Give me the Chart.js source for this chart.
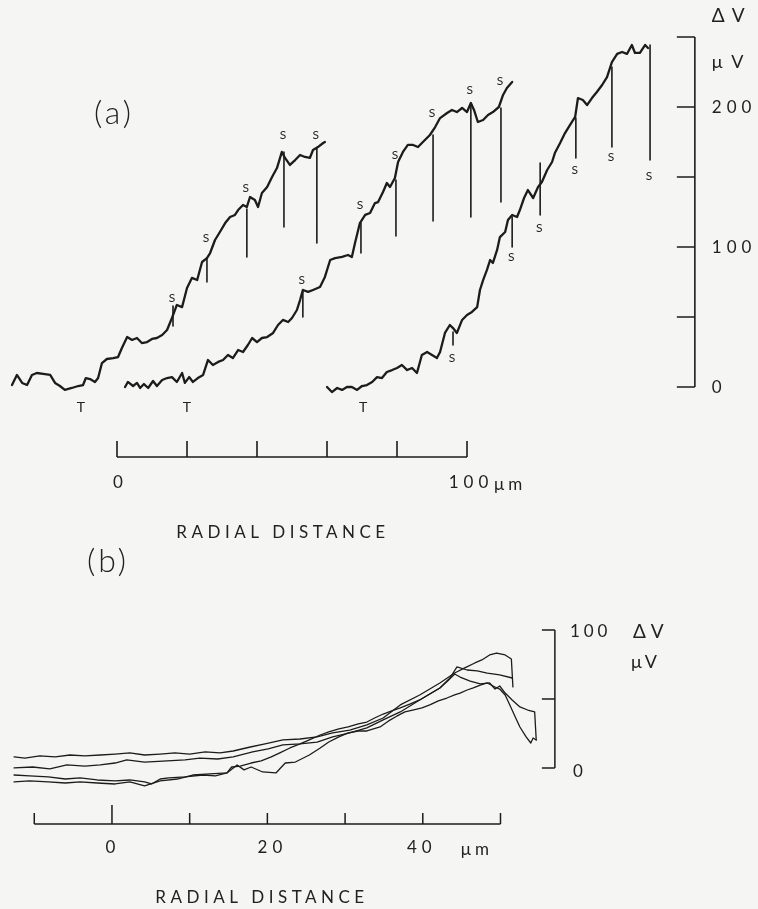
<!DOCTYPE html>
<html>
<head>
<meta charset="utf-8">
<script src="https://cdn.jsdelivr.net/npm/chart.js@4.4.1/dist/chart.umd.min.js"></script>
<style>
  html, body { margin: 0; padding: 0; background: #f5f5f3; }
  #wrap { position: relative; width: 758px; height: 909px; }
  #chartA { position: absolute; left: 0; top: 0; }
  #chartB { position: absolute; left: 0; top: 520px; }
</style>
</head>
<body>
<div id="wrap">
  <canvas id="chartA" width="758" height="560"></canvas>
  <canvas id="chartB" width="758" height="389"></canvas>
</div>
<script>
// ---- panel (a): three radial scans, x in µm, y in µV ----
const a1X = [-30.0, -28.6, -27.1, -25.7, -24.3, -22.9, -21.1, -19.1, -17.7, -16.3, -14.9, -12.9, -11.1, -9.7, -8.9, -7.7, -6.3, -5.4, -4.3, -2.9, -1.1, 0.3, 1.4, 2.9, 4.3, 5.7, 7.1, 8.6, 10.0, 11.4, 12.9, 14.3, 15.7, 17.1, 18.6, 20.0, 21.4, 22.9, 24.3, 25.7, 26.6, 28.0, 29.4, 30.9, 32.3, 33.7, 34.6, 36.0, 37.1, 38.0, 39.4, 40.3, 41.4, 42.9, 44.3, 45.7, 47.1, 48.0, 49.4, 50.9, 52.3, 53.7, 55.1, 56.0, 57.4, 58.9, 59.4];
const a1Y = [1.4, 8.6, 2.9, 1.4, 8.6, 10.0, 9.3, 8.6, 2.9, 0.7, -2.1, -0.7, 0.7, 1.4, 6.4, 5.7, 3.6, 6.4, 17.1, 20.0, 20.7, 21.4, 27.9, 35.7, 33.6, 35.0, 31.4, 32.1, 34.3, 35.0, 37.1, 40.7, 49.3, 58.6, 57.1, 70.7, 77.9, 76.4, 89.3, 92.1, 95.7, 105.0, 110.7, 117.1, 121.4, 122.9, 126.4, 130.0, 128.6, 135.7, 133.6, 128.6, 138.6, 142.9, 150.0, 156.4, 167.9, 163.6, 158.6, 162.1, 165.7, 164.3, 163.6, 169.3, 171.4, 174.3, 175.0];

const a2X = [2.3, 3.1, 4.6, 5.7, 6.6, 7.7, 8.9, 10.3, 11.4, 12.9, 14.3, 15.7, 17.1, 18.6, 19.4, 20.6, 21.7, 23.1, 24.6, 26.0, 27.4, 28.9, 30.3, 31.7, 33.1, 34.6, 36.0, 37.4, 38.6, 40.0, 41.4, 42.9, 44.6, 46.0, 47.4, 48.9, 50.0, 51.4, 52.3, 53.1, 54.6, 56.0, 58.0, 59.4, 60.9, 62.3, 64.3, 66.0, 67.1, 68.0, 69.4, 70.9, 72.3, 73.7, 74.6, 76.0, 77.1, 78.0, 79.4, 80.3, 81.7, 83.1, 84.6, 86.0, 87.4, 89.4, 90.9, 92.3, 94.3, 95.7, 97.1, 98.6, 100.0, 101.1, 102.0, 103.1, 104.6, 106.0, 107.4, 109.1, 110.3, 111.4, 112.9];
const a2Y = [0, 3.6, 0.7, 2.9, -0.7, 2.1, -0.7, 4.3, 0.7, 5.0, 6.4, 7.1, 3.6, 10.0, 2.9, 7.1, 3.6, 6.4, 8.6, 19.3, 15.7, 17.9, 19.3, 22.9, 20.7, 26.4, 25.0, 30.0, 35.0, 32.1, 35.0, 35.7, 38.6, 44.3, 47.9, 46.4, 49.3, 55.0, 62.1, 69.3, 67.9, 69.3, 71.4, 78.6, 90.7, 92.1, 92.9, 94.3, 92.9, 102.9, 117.1, 122.9, 124.3, 131.4, 132.1, 139.3, 145.7, 142.9, 149.3, 160.7, 167.9, 172.9, 172.9, 171.4, 175.0, 180.0, 185.7, 192.1, 195.7, 197.9, 196.4, 199.3, 196.4, 202.9, 197.9, 189.3, 190.7, 194.3, 196.4, 200.0, 208.6, 213.6, 217.9];

const a3X = [60.0, 61.4, 62.9, 64.3, 65.7, 67.1, 68.6, 70.0, 71.4, 72.9, 74.3, 75.7, 77.1, 78.6, 80.0, 81.4, 82.9, 84.3, 85.7, 87.1, 88.6, 90.0, 91.4, 92.3, 93.7, 95.1, 96.0, 97.1, 98.6, 100.0, 101.4, 102.9, 103.7, 104.6, 105.7, 106.6, 107.4, 108.6, 109.4, 110.9, 111.7, 112.9, 114.3, 115.1, 116.3, 117.4, 118.9, 120.3, 121.4, 122.9, 124.3, 125.1, 126.6, 128.0, 129.4, 130.9, 131.7, 133.1, 134.3, 135.7, 137.1, 138.6, 140.0, 141.4, 142.9, 144.3, 145.7, 147.1, 148.0, 149.4, 150.9, 151.7];
const a3Y = [0, -3.6, -0.7, -2.1, 0, 0, -2.1, 0.7, 1.4, 3.6, 7.1, 6.4, 10.7, 12.1, 13.6, 15.7, 12.1, 13.6, 10.0, 22.9, 25.0, 22.9, 20.7, 25.0, 38.6, 44.3, 42.1, 38.6, 47.9, 51.4, 53.6, 57.1, 69.3, 76.4, 83.6, 90.7, 88.6, 97.9, 107.1, 110.7, 119.3, 122.9, 121.4, 126.4, 135.0, 140.7, 135.0, 142.9, 146.4, 155.0, 160.7, 167.1, 174.3, 181.4, 187.1, 192.9, 206.4, 205.0, 201.4, 206.4, 210.7, 215.7, 221.4, 232.1, 237.9, 239.3, 237.9, 244.3, 238.6, 238.6, 244.3, 242.1];

// "s" stimulus marks: position, top and bottom of the line, label height
const sX = [16.0, 25.7, 37.1, 47.7, 57.1, 53.1, 69.7, 79.7, 90.3, 101.1, 109.7, 96.0, 112.9, 120.9, 131.1, 141.4, 152.3];
const sTop = [57.9, 92.1, 127.1, 167.9, 170.7, 69.3, 117.1, 147.9, 180.0, 202.9, 199.3, 39.3, 121.4, 160.0, 192.1, 228.6, 244.3];
const sBottom = [43.6, 75.0, 92.9, 114.3, 102.9, 50.0, 95.7, 107.9, 118.6, 121.4, 132.1, 30.0, 100.0, 122.9, 163.6, 171.4, 162.1];
const sLabelY = [63.6, 106.4, 142.1, 180.0, 180.0, 76.4, 130.0, 165.7, 195.7, 212.1, 218.6, 20.7, 92.9, 113.6, 155.0, 164.3, 150.7];

// "T" marks under each scan
const tX = [-10.3, 20.0, 70.3];
const tY = -14.3;

const aVoltTicks = [0, 50, 100, 150, 200, 250];
const aVoltLabels = [0, 100, 200];
const aDistTicks = [0, 20, 40, 60, 80, 100];
const aBracketAt = 165.1; // µm
const aBarAt = -50;       // µV

// ---- panel (b): four averaged scans ----
const b1X = [-12.6, -11.2, -9.3, -7.3, -5.4, -3.5, -1.5, 0.4, 2.3, 4.2, 6.2, 8.1, 10.0, 12.0, 13.9, 15.6, 17.8, 19.7, 22.0, 24.2, 26.4, 28.4, 30.6, 32.8, 34.9, 37.1, 39.6, 42.2, 44.1, 45.4, 46.7, 47.6, 48.6, 49.5, 50.6, 51.4, 51.6];
const b1Y = [8.0, 7.2, 8.7, 8.0, 9.4, 8.7, 9.4, 10.1, 10.9, 9.4, 10.1, 10.9, 10.1, 11.6, 10.9, 12.3, 15.2, 17.4, 20.3, 21.0, 22.5, 25.4, 27.5, 31.2, 36.2, 45.7, 52.9, 61.6, 68.8, 72.5, 76.1, 78.3, 81.9, 83.3, 81.9, 79.0, 58.7];

const b2X = [-12.6, -10.2, -8.0, -5.8, -3.5, -1.5, 0.4, 1.9, 4.2, 7.1, 9.4, 11.3, 13.6, 15.6, 18.1, 20.1, 22.0, 24.2, 26.4, 28.4, 30.6, 32.8, 34.9, 37.1, 39.6, 42.2, 43.5, 44.4, 45.7, 47.0, 48.3, 49.9, 51.5];
const b2Y = [0, 0.7, -0.7, 2.2, 1.4, 2.2, 3.6, 5.8, 4.3, 5.1, 5.8, 7.2, 6.5, 8.0, 11.6, 13.8, 16.7, 17.4, 18.8, 22.5, 25.4, 29.0, 34.8, 40.6, 49.3, 58.0, 65.2, 73.2, 71.0, 70.3, 68.8, 67.4, 65.2];

const b3X = [-12.6, -10.6, -8.2, -6.0, -4.1, -1.9, 0.4, 2.3, 4.2, 5.1, 6.2, 7.3, 9.4, 11.7, 13.3, 14.8, 15.4, 16.5, 17.9, 19.2, 20.5, 21.6, 22.9, 24.2, 25.4, 26.8, 27.9, 29.2, 30.4, 31.7, 32.8, 33.8, 34.9, 36.0, 37.1, 38.4, 39.6, 40.9, 42.2, 43.2, 44.1, 44.8, 46.1, 47.4, 48.6, 49.3, 49.9, 50.6, 51.5, 52.5, 53.5, 54.4, 54.6];
const b3Y = [-5.1, -5.8, -6.5, -8.0, -7.2, -8.7, -9.4, -8.7, -10.1, -11.6, -8.0, -7.2, -6.5, -5.1, -5.8, -3.6, 0.7, 1.4, 3.6, 5.1, 8.0, 10.9, 14.5, 17.4, 20.3, 23.9, 26.1, 28.3, 29.7, 31.9, 33.3, 36.2, 39.1, 41.3, 43.5, 46.4, 49.3, 53.6, 58.0, 63.0, 68.1, 65.9, 63.0, 60.9, 61.6, 57.2, 59.4, 54.3, 49.3, 44.2, 42.0, 40.6, 20.3];

const b4X = [-12.6, -10.6, -8.2, -6.0, -4.1, -1.9, 0.4, 2.3, 4.2, 6.2, 8.4, 10.4, 12.6, 14.8, 16.1, 17.0, 17.9, 19.4, 21.1, 22.3, 23.6, 25.4, 26.8, 27.9, 29.2, 30.4, 31.7, 32.8, 34.5, 35.6, 36.7, 37.7, 38.7, 39.9, 40.9, 42.0, 43.1, 44.1, 44.8, 45.7, 46.5, 47.4, 48.3, 49.3, 49.9, 50.6, 51.2, 51.9, 52.5, 53.3, 53.9, 54.2, 54.6];
const b4Y = [-10.1, -9.4, -10.1, -10.9, -10.1, -10.9, -11.6, -10.1, -13.0, -9.4, -8.0, -5.1, -4.3, -3.6, 2.2, -1.4, 0.7, -2.9, -3.6, 3.6, 4.3, 9.4, 14.5, 18.8, 22.5, 25.4, 26.8, 26.8, 29.7, 34.1, 37.7, 40.6, 42.0, 43.5, 45.7, 48.6, 50.7, 52.9, 54.3, 56.5, 58.0, 60.1, 61.6, 58.7, 57.2, 52.9, 45.7, 37.0, 29.7, 22.5, 18.1, 21.7, 20.3];

const bVoltTicks = [0, 50, 100];
const bDistTicks = [-10, 0, 10, 20, 30, 40, 50];
const bDistLabels = [0, 20, 40];
const bBracketAt = 57.0;  // µm
const bBarAt = -40.6;     // µV

const INK = "#1c1c1c";
const TEXT = "#222222";
const FONT = 'Lato, "Open Sans", "DejaVu Sans", sans-serif';

function pts(xs, ys) {
  return xs.map((x, i) => ({ x: x, y: ys[i] }));
}

function markerSegments(xs, tops, bottoms) {
  const out = [];
  xs.forEach((x, i) => {
    out.push({ x: x, y: tops[i] }, { x: x, y: bottoms[i] }, { x: x, y: null });
  });
  return out;
}

function text(ctx, str, x, y, size, align, spacing, weight) {
  ctx.font = (weight || 400) + " " + size + "px " + FONT;
  ctx.letterSpacing = (spacing || 0) + "px";
  ctx.textAlign = align || "center";
  ctx.textBaseline = "middle";
  ctx.fillText(str, x, y);
}

function traceSet(data, width) {
  return {
    data: data,
    borderColor: INK,
    borderWidth: width,
    pointRadius: 0,
    borderJoinStyle: "round",
    borderCapStyle: "round",
    tension: 0,
  };
}

const baseOptions = (xMin, xMax, yMin, yMax) => ({
  responsive: false,
  animation: false,
  events: [],
  layout: { padding: 0 },
  plugins: { legend: { display: false }, tooltip: { enabled: false } },
  scales: {
    x: { type: "linear", min: xMin, max: xMax, display: false },
    y: { type: "linear", min: yMin, max: yMax, display: false },
  },
});

// panel (a) axes and lettering
const panelAPlugin = {
  id: "panelA",
  afterDatasetsDraw(chart) {
    const ctx = chart.ctx;
    const x = chart.scales.x;
    const y = chart.scales.y;
    ctx.save();
    ctx.strokeStyle = INK;
    ctx.fillStyle = TEXT;
    ctx.lineWidth = 1.6;

    // voltage bracket on the right
    const bx = x.getPixelForValue(aBracketAt);
    const yBot = y.getPixelForValue(aVoltTicks[0]);
    const yTop = y.getPixelForValue(aVoltTicks[aVoltTicks.length - 1]);
    ctx.beginPath();
    ctx.moveTo(bx, yBot);
    ctx.lineTo(bx, yTop);
    aVoltTicks.forEach((v) => {
      const p = y.getPixelForValue(v);
      ctx.moveTo(bx - 18, p);
      ctx.lineTo(bx, p);
    });
    ctx.stroke();
    aVoltLabels.forEach((v) => text(ctx, String(v), bx + 17, y.getPixelForValue(v) + 1, 17, "left", 5));
    text(ctx, "ΔV", bx + 17, yTop - 21, 19, "left", 7);
    text(ctx, "μ V", bx + 17, yTop + 25, 18, "left", 2);

    // distance scale bar
    const sy = y.getPixelForValue(aBarAt);
    const x0 = x.getPixelForValue(aDistTicks[0]);
    const x1 = x.getPixelForValue(aDistTicks[aDistTicks.length - 1]);
    ctx.beginPath();
    ctx.moveTo(x0, sy);
    ctx.lineTo(x1, sy);
    aDistTicks.forEach((v) => {
      const p = x.getPixelForValue(v);
      ctx.moveTo(p, sy);
      ctx.lineTo(p, sy - 16);
    });
    ctx.stroke();
    text(ctx, "0", x0 + 1, sy + 26, 17, "center", 0);
    text(ctx, "100", x1 + 4, sy + 26, 17, "center", 5);
    text(ctx, "μm", x1 + 27, sy + 28, 17, "left", 4);
    text(ctx, "RADIAL DISTANCE", (x0 + x1) / 2 - 9, sy + 76, 17, "center", 4.5);

    // stimulus and T labels
    sX.forEach((v, i) => text(ctx, "S", x.getPixelForValue(v) - 1, y.getPixelForValue(sLabelY[i]), 12, "center", 0));
    tX.forEach((v) => text(ctx, "T", x.getPixelForValue(v), y.getPixelForValue(tY), 14, "center", 0));

    text(ctx, "(a)", 114, 114, 32, "center", 3, 300);
    ctx.restore();
  },
};

// panel (b) axes and lettering
const panelBPlugin = {
  id: "panelB",
  afterDatasetsDraw(chart) {
    const ctx = chart.ctx;
    const x = chart.scales.x;
    const y = chart.scales.y;
    ctx.save();
    ctx.strokeStyle = INK;
    ctx.fillStyle = TEXT;
    ctx.lineWidth = 1.5;

    const bx = x.getPixelForValue(bBracketAt);
    const yBot = y.getPixelForValue(bVoltTicks[0]);
    const yTop = y.getPixelForValue(bVoltTicks[bVoltTicks.length - 1]);
    ctx.beginPath();
    ctx.moveTo(bx, yBot);
    ctx.lineTo(bx, yTop);
    bVoltTicks.forEach((v) => {
      const p = y.getPixelForValue(v);
      ctx.moveTo(bx - 13, p);
      ctx.lineTo(bx, p);
    });
    ctx.stroke();
    text(ctx, "100", bx + 15, yTop + 2, 17, "left", 4);
    text(ctx, "0", bx + 18, yBot + 4, 17, "left", 0);
    text(ctx, "ΔV", bx + 78, yTop + 2, 19, "left", 5);
    text(ctx, "μV", bx + 76, yTop + 32, 18, "left", 3);

    const sy = y.getPixelForValue(bBarAt);
    const x0 = x.getPixelForValue(bDistTicks[0]);
    const x1 = x.getPixelForValue(bDistTicks[bDistTicks.length - 1]);
    ctx.beginPath();
    ctx.moveTo(x0, sy);
    ctx.lineTo(x1, sy);
    bDistTicks.forEach((v) => {
      const p = x.getPixelForValue(v);
      ctx.moveTo(p, sy);
      ctx.lineTo(p, sy - (v === 0 ? 19 : 11));
    });
    ctx.stroke();
    bDistLabels.forEach((v) => text(ctx, String(v), x.getPixelForValue(v) + (v === 0 ? 1 : v === 20 ? 5 : -1), sy + 24, 17, "center", 5));
    text(ctx, "μm", x.getPixelForValue(40) + 38, sy + 26, 17, "left", 4);
    text(ctx, "RADIAL DISTANCE", 262, sy + 74, 17, "center", 4.5);

    text(ctx, "(b)", 108, 42, 32, "center", 3, 300);
    ctx.restore();
  },
};

new Chart(document.getElementById("chartA").getContext("2d"), {
  type: "line",
  data: {
    datasets: [
      traceSet(pts(a1X, a1Y), 2.3),
      traceSet(pts(a2X, a2Y), 2.3),
      traceSet(pts(a3X, a3Y), 2.3),
      traceSet(markerSegments(sX, sTop, sBottom), 1.6),
    ],
  },
  options: baseOptions(-33.43, 183.14, -123.57, 276.43),
  plugins: [panelAPlugin],
});

new Chart(document.getElementById("chartB").getContext("2d"), {
  type: "line",
  data: {
    datasets: [
      traceSet(pts(b1X, b1Y), 1.3),
      traceSet(pts(b2X, b2Y), 1.3),
      traceSet(pts(b3X, b3Y), 1.3),
      traceSet(pts(b4X, b4Y), 1.3),
    ],
  },
  options: baseOptions(-14.41, 83.14, -102.2, 179.7),
  plugins: [panelBPlugin],
});
</script>
</body>
</html>
